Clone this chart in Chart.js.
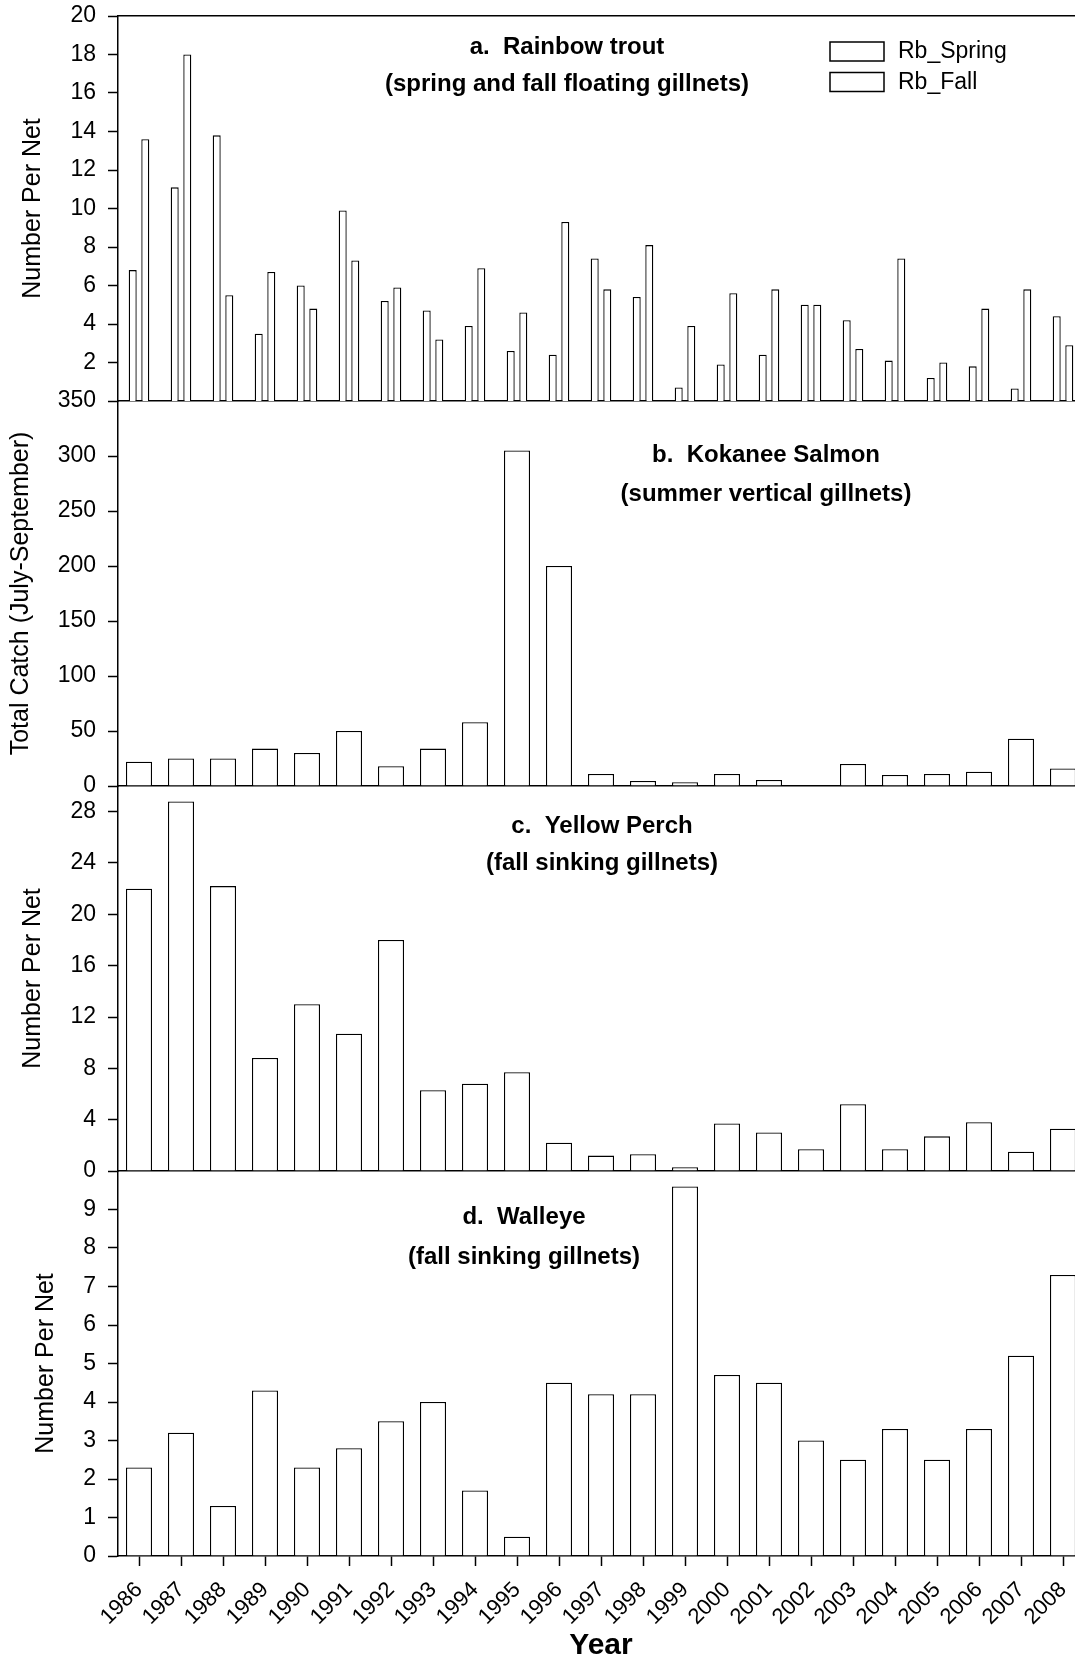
<!DOCTYPE html>
<html>
<head>
<meta charset="utf-8">
<title>Gillnet catch per year, 1986-2008</title>
<script src="https://cdn.jsdelivr.net/npm/chart.js@4.4.1/dist/chart.umd.min.js"></script>
<style>
  html, body { margin: 0; padding: 0; background: #fff; overflow: hidden; }
  body { width: 1075px; height: 1664px; position: relative; }
  canvas { position: absolute; left: 0; }
</style>
</head>
<body>
<!-- the plot runs a little past the right edge of the page, as in the original figure -->
<canvas id="panelA" width="1090" height="415" style="top:0px"></canvas>
<canvas id="panelB" width="1090" height="413" style="top:387px"></canvas>
<canvas id="panelC" width="1090" height="413" style="top:772px"></canvas>
<canvas id="panelD" width="1090" height="507" style="top:1157px"></canvas>
<script>
// --- DATA ---
const years = ['1986', '1987', '1988', '1989', '1990', '1991', '1992', '1993', '1994', '1995', '1996', '1997',
  '1998', '1999', '2000', '2001', '2002', '2003', '2004', '2005', '2006', '2007', '2008'];

// a. rainbow trout, number per net
const rbSpring = [6.8, 11.1, 13.8, 3.5, 6.0, 9.9, 5.2, 4.7, 3.9, 2.6, 2.4, 7.4, 5.4, 0.7, 1.9, 2.4, 5.0, 4.2, 2.1, 1.2, 1.8, 0.65, 4.4];
const rbFall = [13.6, 18.0, 5.5, 6.7, 4.8, 7.3, 5.9, 3.2, 6.9, 4.6, 9.3, 5.8, 8.1, 3.9, 5.6, 5.8, 5.0, 2.7, 7.4, 2.0, 4.8, 5.8, 2.9];
// b. kokanee salmon, total catch
const kokanee = [22, 25, 25, 34, 30, 50, 18, 34, 58, 305, 200, 11, 4.5, 3.5, 11, 5.5, 0, 20, 10, 11, 13, 43, 16];
// c. yellow perch, number per net
const perch = [22.0, 28.8, 22.2, 8.8, 13.0, 10.7, 18.0, 6.3, 6.8, 7.7, 2.2, 1.2, 1.3, 0.3, 3.7, 3.0, 1.7, 5.2, 1.7, 2.7, 3.8, 1.5, 3.3];
// d. walleye, number per net
const walleye = [2.3, 3.2, 1.3, 4.3, 2.3, 2.8, 3.5, 4.0, 1.7, 0.5, 4.5, 4.2, 4.2, 9.6, 4.7, 4.5, 3.0, 2.5, 3.3, 2.5, 3.3, 5.2, 7.3];

// --- STYLE ---
const FONT = '"Liberation Sans", Arial, Helvetica, sans-serif';
const AXIS_W = 118;   // width of the y axis box, same for every panel
const RIGHT_PAD = 6;  // canvas is 1090 wide, plot ends at 1084
const LINE = 1.5;

Chart.defaults.font.family = FONT;
Chart.defaults.color = '#000';
Chart.defaults.animation = false;

/**
 * Draws the bold two-line label inside a panel.
 */
function panelText(lines) {
  return {
    id: 'panelText',
    afterDraw(chart) {
      const { ctx, chartArea } = chart;
      ctx.save();
      ctx.fillStyle = '#000';
      ctx.font = 'bold 24px ' + FONT;
      ctx.textAlign = 'center';
      ctx.textBaseline = 'middle';
      lines.forEach(l => ctx.fillText(l.text, l.x, chartArea.top + l.dy));
      ctx.restore();
    }
  };
}

// Legend boxes for the rainbow trout panel
const boxLegend = {
  id: 'boxLegend',
  afterDraw(chart) {
    const ctx = chart.ctx;
    ctx.save();
    ctx.strokeStyle = '#000';
    ctx.lineWidth = LINE;
    ctx.fillStyle = '#000';
    ctx.font = '23px ' + FONT;
    ctx.textBaseline = 'middle';
    chart.data.datasets.forEach((ds, i) => {
      const y = chart.chartArea.top + 26 + i * 30.5;
      ctx.strokeRect(830, y, 54, 19);
      ctx.fillText(ds.label, 898, y + 10);
    });
    ctx.restore();
  }
};

function yAxis(opts) {
  return {
    min: 0,
    max: opts.max,
    ticks: { stepSize: opts.step, includeBounds: false, color: '#000', font: { size: 23 }, padding: 12 },
    grid: { drawOnChartArea: false, drawTicks: true, tickLength: 10, tickColor: '#000', tickWidth: LINE },
    border: { display: true, color: '#000', width: LINE },
    title: { display: true, text: opts.title, color: '#000', font: { size: 25 }, padding: { top: opts.titlePad, bottom: 0 } },
    afterBuildTicks: s => { s.ticks = s.ticks.filter(t => !opts.skip.includes(t.value)); },
    afterFit: s => {
      // keep every panel's plot box the same size, labels may spill over the edges
      s.width = AXIS_W;
      s.paddingTop = 0;
      s.paddingBottom = 0;
    }
  };
}

// plain bottom line shared with the next panel
const plainX = {
  type: 'category',
  offset: true,
  ticks: { display: false },
  grid: { drawOnChartArea: false, drawTicks: false },
  border: { display: true, color: '#000', width: LINE },
  afterFit: s => { s.height = 0; s.paddingLeft = 0; s.paddingRight = 0; }
};

function barSet(label, data, catPct, barPct) {
  return {
    label: label,
    data: data,
    backgroundColor: '#fff',
    borderColor: '#000',
    borderWidth: 1.3,
    borderSkipped: 'start',
    categoryPercentage: catPct,
    barPercentage: barPct
  };
}

function makePanel(id, datasets, x, y, pad, extraScales, plugins) {
  return new Chart(document.getElementById(id), {
    type: 'bar',
    data: { labels: years, datasets: datasets },
    options: {
      responsive: false,
      layout: { padding: { top: pad.top, bottom: pad.bottom, left: 0, right: RIGHT_PAD } },
      scales: Object.assign({ x: x, y: y }, extraScales || {}),
      plugins: { legend: { display: false }, tooltip: { enabled: false }, title: { display: false } }
    },
    plugins: plugins
  });
}

// --- PANELS ---
makePanel('panelA',
  [barSet('Rb_Spring', rbSpring, 0.6, 0.635), barSet('Rb_Fall', rbFall, 0.6, 0.635)],
  plainX,
  yAxis({ max: 20, step: 2, title: 'Number Per Net', titlePad: 18, skip: [0] }),
  { top: 16, bottom: 14 },
  {
    xTop: {
      type: 'category', position: 'top', offset: true,
      ticks: { display: false },
      grid: { drawOnChartArea: false, drawTicks: false },
      border: { display: true, color: '#000', width: LINE },
      afterFit: s => { s.height = 0; s.paddingLeft = 0; s.paddingRight = 0; }
    }
  },
  [panelText([
    { text: 'a.  Rainbow trout', x: 567, dy: 31 },
    { text: '(spring and fall floating gillnets)', x: 567, dy: 68 }
  ]), boxLegend]
);

makePanel('panelB',
  [barSet('Kokanee', kokanee, 0.62, 1)],
  plainX,
  yAxis({ max: 350, step: 50, title: 'Total Catch (July-September)', titlePad: 6, skip: [] }),
  { top: 14, bottom: 14 },
  null,
  [panelText([
    { text: 'b.  Kokanee Salmon', x: 766, dy: 54 },
    { text: '(summer vertical gillnets)', x: 766, dy: 93 }
  ])]
);

makePanel('panelC',
  [barSet('Yellow Perch', perch, 0.62, 1)],
  plainX,
  yAxis({ max: 30, step: 4, title: 'Number Per Net', titlePad: 18, skip: [] }),
  { top: 14, bottom: 14 },
  null,
  [panelText([
    { text: 'c.  Yellow Perch', x: 602, dy: 40 },
    { text: '(fall sinking gillnets)', x: 602, dy: 77 }
  ])]
);

makePanel('panelD',
  [barSet('Walleye', walleye, 0.62, 1)],
  {
    type: 'category',
    offset: true,
    ticks: { color: '#000', font: { size: 22 }, minRotation: 45, maxRotation: 45, padding: 11 },
    grid: { drawOnChartArea: false, offset: false, tickLength: 10, tickColor: '#000', tickWidth: LINE },
    border: { display: true, color: '#000', width: LINE },
    title: { display: true, text: 'Year', color: '#000', font: { size: 30, weight: 'bold' }, padding: { top: 0, bottom: 0 } },
    afterFit: s => { s.height = 108; s.paddingLeft = 0; s.paddingRight = 0; }
  },
  yAxis({ max: 10, step: 1, title: 'Number Per Net', titlePad: 31, skip: [10] }),
  { top: 14, bottom: 0 },
  null,
  [panelText([
    { text: 'd.  Walleye', x: 524, dy: 46 },
    { text: '(fall sinking gillnets)', x: 524, dy: 86 }
  ])]
);
</script>
</body>
</html>
